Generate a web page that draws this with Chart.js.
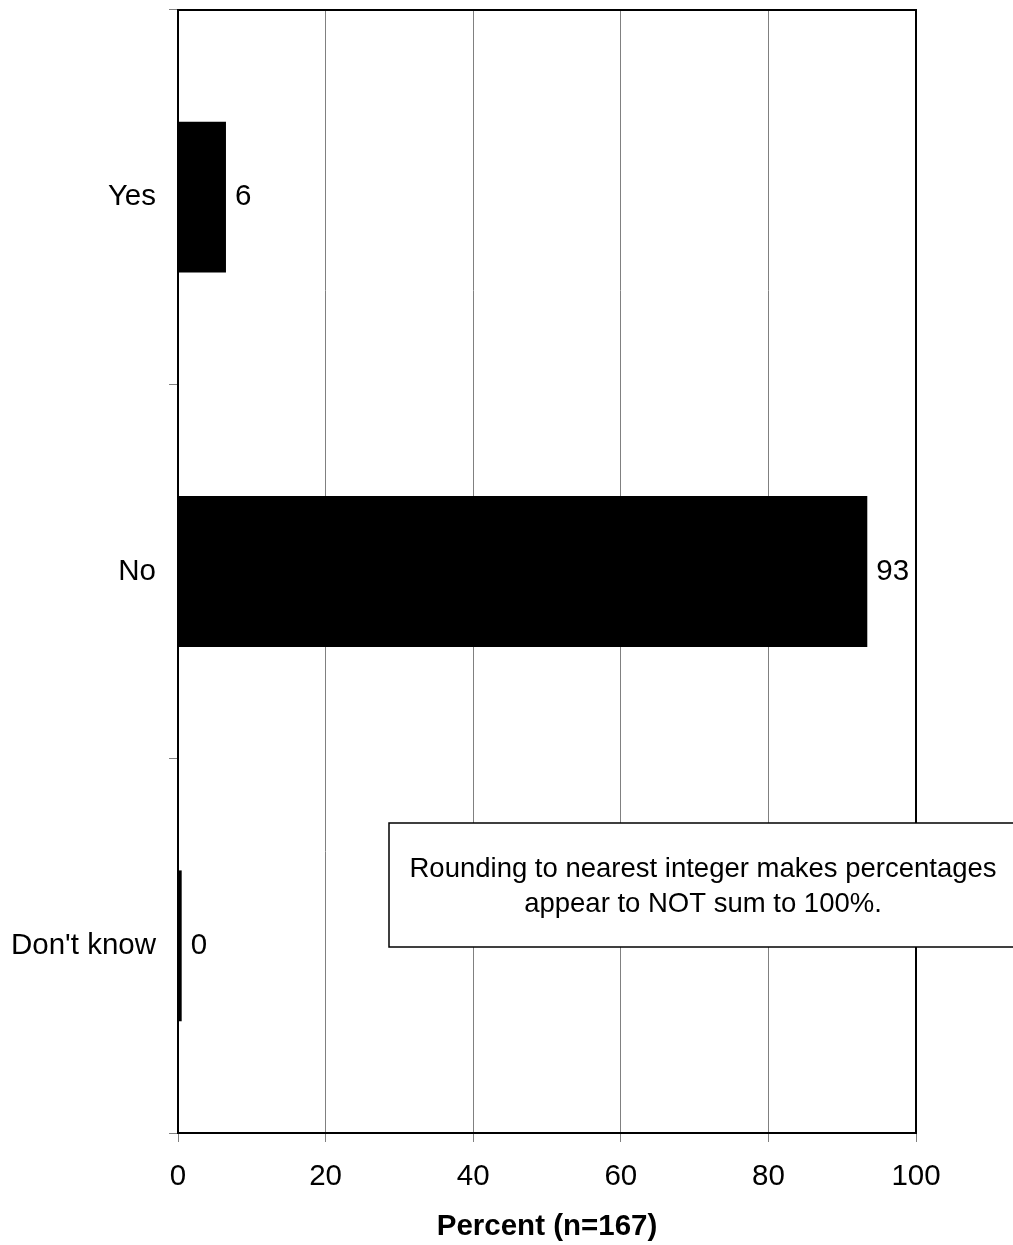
<!DOCTYPE html>
<html>
<head>
<meta charset="utf-8">
<script src="https://cdn.jsdelivr.net/npm/chart.js@4.4.1/dist/chart.umd.min.js"></script>
<style>
  html, body { margin: 0; padding: 0; background: #fff; }
  #wrap { width: 1013px; height: 1245px; position: relative; }
</style>
</head>
<body>
<div id="wrap"><canvas id="c" width="1013" height="1245"></canvas></div>
<script>
const categories = ["Yes", "No", "Don't know"];
const percentValues = [6.5, 93.4, 0.5];
const valueLabels = ["6", "93", "0"];
const xTickValues = [0, 20, 40, 60, 80, 100];
const xAxisTitle = "Percent (n=167)";
const noteLines = ["Rounding to nearest integer makes percentages", "appear to NOT sum to 100%."];

const FONT = "'Liberation Sans', Arial, sans-serif";
const FS = 29.5;
const NOTE_FS = 27.5;

const decorPlugin = {
  id: 'decor',
  afterDatasetsDraw(chart) {
    const ctx = chart.ctx;
    const a = chart.chartArea;
    ctx.save();
    // top and right frame
    ctx.strokeStyle = '#000';
    ctx.lineWidth = 2;
    ctx.beginPath();
    ctx.moveTo(a.left - 1, a.top);
    ctx.lineTo(a.right, a.top);
    ctx.lineTo(a.right, a.bottom);
    ctx.stroke();

    // value labels
    const meta = chart.getDatasetMeta(0);
    ctx.fillStyle = '#000';
    ctx.font = FS + 'px ' + FONT;
    ctx.textAlign = 'left';
    ctx.textBaseline = 'middle';
    meta.data.forEach((bar, i) => {
      ctx.fillText(valueLabels[i], bar.x + 9, bar.y);
    });

    // note box
    const bx = 389, by = 823, bw = 628, bh = 124;
    ctx.fillStyle = '#fff';
    ctx.fillRect(bx, by, bw, bh);
    ctx.strokeStyle = '#000';
    ctx.lineWidth = 1.5;
    ctx.strokeRect(bx, by, bw, bh);
    ctx.fillStyle = '#000';
    ctx.textAlign = 'center';
    ctx.font = NOTE_FS + 'px ' + FONT;
    ctx.fillText(noteLines[0], 703, 869);
    ctx.fillText(noteLines[1], 703, 904);
    ctx.restore();
  }
};

new Chart(document.getElementById('c'), {
  type: 'bar',
  data: {
    labels: categories,
    datasets: [{
      data: percentValues,
      backgroundColor: '#000',
      borderWidth: 0,
      categoryPercentage: 1,
      barPercentage: 0.403
    }]
  },
  options: {
    indexAxis: 'y',
    responsive: false,
    animation: false,
    devicePixelRatio: 1,
    layout: { padding: { top: 10, right: 97, left: 0, bottom: 0 } },
    plugins: { legend: { display: false }, tooltip: { enabled: false } },
    scales: {
      x: {
        min: 0, max: 100,
        afterBuildTicks(scale) { scale.ticks = xTickValues.map(v => ({ value: v })); },
        afterFit(scale) { scale.height = 112; scale.paddingLeft = 0; scale.paddingRight = 0; },
        ticks: { color: '#000', font: { family: FONT, size: FS }, padding: 17, maxRotation: 0 },
        grid: { color: '#808080', lineWidth: 1, tickLength: 9, tickColor: '#808080' },
        border: { color: '#000', width: 2 },
        title: {
          display: true, text: xAxisTitle, color: '#000',
          font: { family: FONT, size: FS, weight: 'bold' },
          padding: { top: 0, bottom: 0 }
        }
      },
      y: {
        afterFit(scale) { scale.width = 178; scale.paddingTop = 0; scale.paddingBottom = 0; },
        ticks: { color: '#000', font: { family: FONT, size: FS }, padding: 13 },
        grid: { offset: true, drawOnChartArea: false, tickLength: 9, color: '#808080', tickColor: '#808080' },
        border: { color: '#000', width: 2 }
      }
    }
  },
  plugins: [decorPlugin]
});
</script>
</body>
</html>
